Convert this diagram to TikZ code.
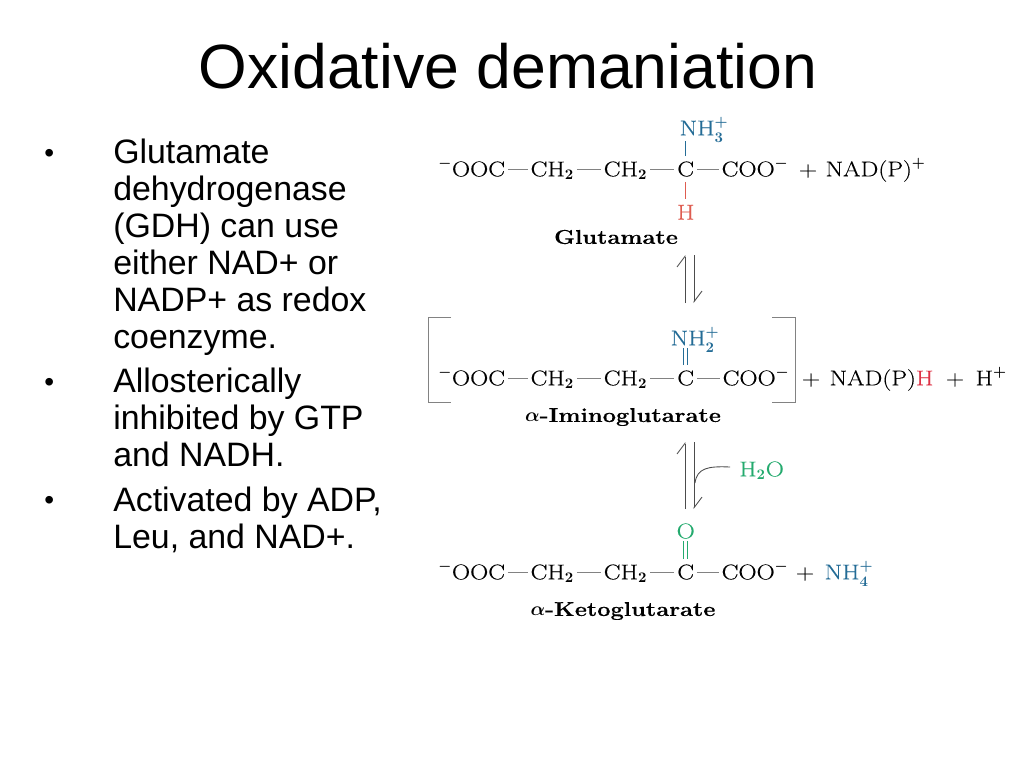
\documentclass[tikz,border=0pt]{standalone}
\usepackage{amsmath}
\usepackage{fontspec}
\newfontfamily\slidefont{Liberation Sans}
\newfontfamily\chemfont[FakeStretch=1.18,FakeBold=0.25]{Latin Modern Roman}
\newfontfamily\chemtitlefont[FakeStretch=1.18,FakeBold=0.3]{Latin Modern Roman}
\usetikzlibrary{positioning}
\usetikzlibrary{arrows.meta}
\definecolor{aminoblue}{RGB}{36,108,150}
\definecolor{hydrored}{RGB}{222,92,80}
\definecolor{nadred}{RGB}{222,50,70}
\definecolor{oxogreen}{RGB}{36,170,110}
\definecolor{bondgray}{RGB}{130,130,130}
\tikzstyle{heading} = [font=\slidefont\fontsize{46.9}{50}\selectfont, inner sep=0pt]
\tikzstyle{item} = [font=\slidefont\fontsize{25.4}{27.75}\selectfont, align=left, anchor=north west, inner sep=0pt]
\tikzstyle{dot} = [font=\slidefont\fontsize{21}{28}\selectfont, anchor=base west, inner sep=0pt]
\tikzstyle{chem} = [font=\chemfont\boldmath\fontsize{16}{18}\selectfont, inner sep=0pt, text height=13pt, text depth=2pt]
\tikzstyle{title} = [font=\chemtitlefont\bfseries\boldmath\fontsize{15}{18}\selectfont, inner sep=0pt]
\tikzstyle{bond} = [draw, bondgray, line width=0.55pt, shorten >=2pt, shorten <=2pt]
\tikzstyle{dblbond} = [draw, line width=0.5pt, double, double distance=2.6pt, shorten >=0pt, shorten <=2pt]
\tikzstyle{harpoon} = [draw, black!70, line width=0.65pt, -{Straight Barb[left, length=8pt, width=12pt, line width=0.65pt]}]

\begin{document}
\begin{tikzpicture}[x=0.75pt, y=-0.75pt]
            \useasboundingbox (0,0) rectangle (1024,768);
            \node[heading](heading) at (508,66){Oxidative demaniation};
            % bullets
            \node[item](itemone) at (113,139){Glutamate\\dehydrogenase\\(GDH) can use\\either NAD+ or\\NADP+ as redox\\coenzyme.};
            \node[item, below=9pt of itemone.south west, anchor=north west](itemtwo){Allosterically\\inhibited by GTP\\and NADH.};
            \node[item, below=14.25pt of itemtwo.south west, anchor=north west](itemthree){Activated by ADP,\\Leu, and NAD+.};
            \node[dot](dotone) at (44,162){•};
            \node[dot](dottwo) at (44,391){•};
            \node[dot](dotthree) at (44,509){•};
            % glutamate
            \node[chem, anchor=west](oocone) at (438,169){$^{-}$OOC};
            \node[chem, right=18.75pt of oocone](chaone){CH$_2$};
            \node[chem, right=22pt of chaone](chbone){CH$_2$};
            \node[chem, right=22.25pt of chbone](cone){C};
            \node[chem, right=20.25pt of cone](cooone){COO$^{-}$};
            \node[chem, right=7.5pt of cooone](plusone){+};
            \node[chem, right=6pt of plusone](nadone){NAD(P)$^{+}$};
            \node[chem, aminoblue](nhthree) at (704,128){NH$_3^+$};
            \node[chem, hydrored, below=17pt of cone](hone){H};
            \node[title](glutamate) at (616,237){Glutamate};
            \path[bond] (oocone) -- (chaone);
            \path[bond] (chaone) -- (chbone);
            \path[bond] (chbone) -- (cone);
            \path[bond] (cone) -- (cooone);
            \path[bond, aminoblue] (cone) -- (cone |- nhthree.south);
            \path[bond, hydrored] (cone) -- (hone);
            % first equilibrium
            \coordinate (upbot) at (685,303);
            \coordinate (uptop) at (685,255);
            \coordinate (downtop) at (694,255);
            \coordinate (downbot) at (694,303);
            \path[harpoon] (upbot) -- (uptop);
            \path[harpoon] (downtop) -- (downbot);
            % iminoglutarate
            \node[chem, anchor=west](ooctwo) at (438,378){$^{-}$OOC};
            \node[chem, right=18.75pt of ooctwo](chatwo){CH$_2$};
            \node[chem, right=22pt of chatwo](chbtwo){CH$_2$};
            \node[chem, right=22.25pt of chbtwo](ctwo){C};
            \node[chem, right=21pt of ctwo](cootwo){COO$^{-}$};
            \node[chem, right=9pt of cootwo](plustwo){+};
            \node[chem, right=6.75pt of plustwo](nadtwo){NAD(P){\color{nadred}H}};
            \node[chem, right=9pt of nadtwo](plusthree){+};
            \node[chem, right=8.25pt of plusthree](hplus){H$^{+}$};
            \node[chem, aminoblue](nhtwo) at (695,338){NH$_2^+$};
            \node[title](imino) at (623,417){\(\alpha\)-Iminoglutarate};
            \path[bond] (ooctwo) -- (chatwo);
            \path[bond] (chatwo) -- (chbtwo);
            \path[bond] (chbtwo) -- (ctwo);
            \path[bond] (ctwo) -- (cootwo);
            \path[dblbond, aminoblue] (ctwo) -- (ctwo |- nhtwo.south);
            \coordinate (brla) at (451,317);
            \coordinate (brlb) at (428,317);
            \coordinate (brlc) at (428,402);
            \coordinate (brld) at (451,402);
            \coordinate (brra) at (772,317);
            \coordinate (brrb) at (795,317);
            \coordinate (brrc) at (795,402);
            \coordinate (brrd) at (772,402);
            \draw[bondgray, line width=0.7pt] (brla) -- (brlb) -- (brlc) -- (brld);
            \draw[bondgray, line width=0.7pt] (brra) -- (brrb) -- (brrc) -- (brrd);
            % second equilibrium
            \coordinate (uplow) at (685,509);
            \coordinate (uphigh) at (685,442);
            \coordinate (downhigh) at (694,442);
            \coordinate (downlow) at (694,509);
            \path[harpoon] (uplow) -- (uphigh);
            \path[harpoon] (downhigh) -- (downlow);
            \node[chem, oxogreen, anchor=west](water) at (739,469){H$_2$O};
            \coordinate (waterin) at (695,483);
            \draw[black!70, line width=0.65pt] (water.west) ++(-9,-2) .. controls (708,466) and (697,468) .. (waterin);
            % ketoglutarate
            \node[chem, anchor=west](oocthree) at (438,572){$^{-}$OOC};
            \node[chem, right=18.75pt of oocthree](chathree){CH$_2$};
            \node[chem, right=22pt of chathree](chbthree){CH$_2$};
            \node[chem, right=22.25pt of chbthree](cthree){C};
            \node[chem, right=20.25pt of cthree](coothree){COO$^{-}$};
            \node[chem, right=5.25pt of coothree](plusfour){+};
            \node[chem, aminoblue, right=7.5pt of plusfour](nhfour){NH$_4^+$};
            \node[chem, oxogreen](oxo) at (cthree |- 0,531){O};
            \node[title](keto) at (623,611){\(\alpha\)-Ketoglutarate};
            \path[bond] (oocthree) -- (chathree);
            \path[bond] (chathree) -- (chbthree);
            \path[bond] (chbthree) -- (cthree);
            \path[bond] (cthree) -- (coothree);
            \path[dblbond, oxogreen] (cthree) -- (oxo);
        \end{tikzpicture}
\end{document}
